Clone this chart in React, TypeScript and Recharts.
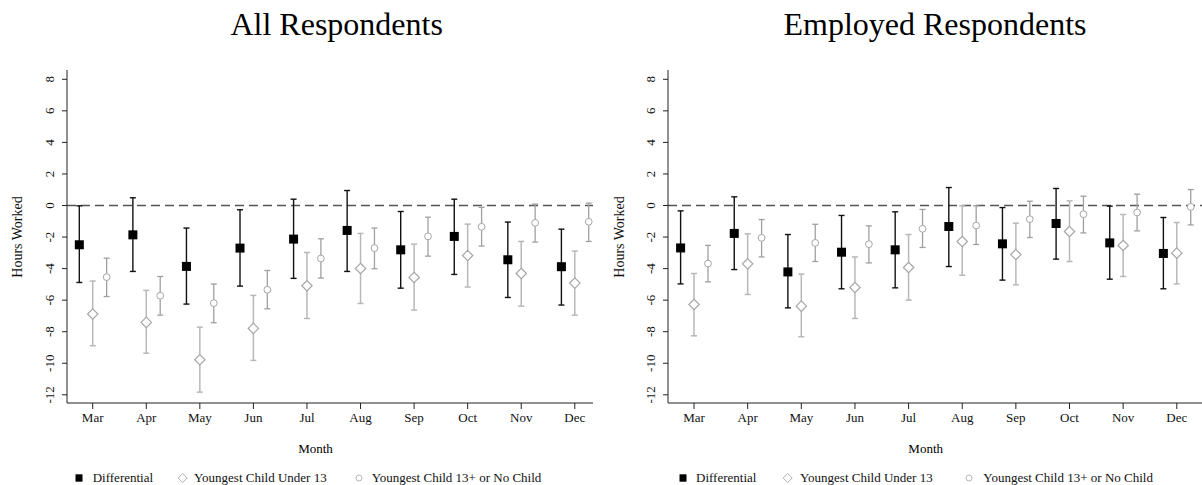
import React from 'react';
import { ScatterChart, Scatter, XAxis, YAxis, ReferenceLine, ErrorBar } from 'recharts';

const months = ['Mar', 'Apr', 'May', 'Jun', 'Jul', 'Aug', 'Sep', 'Oct', 'Nov', 'Dec'];
const yTicks = [8, 6, 4, 2, 0, -2, -4, -6, -8, -10, -12];
const monthTicks = [0, 1, 2, 3, 4, 5, 6, 7, 8, 9];

// All Respondents
const allDiff = [-2.49, -1.86, -3.86, -2.7, -2.13, -1.58, -2.81, -1.96, -3.44, -3.88];
const allDiffLo = [-4.88, -4.18, -6.25, -5.11, -4.62, -4.18, -5.24, -4.37, -5.83, -6.31];
const allDiffHi = [-0.02, 0.49, -1.43, -0.27, 0.4, 0.95, -0.38, 0.4, -1.05, -1.5];
const allU13 = [-6.88, -7.41, -9.78, -7.79, -5.09, -3.99, -4.56, -3.17, -4.31, -4.92];
const allU13Lo = [-8.89, -9.36, -11.83, -9.82, -7.16, -6.21, -6.63, -5.17, -6.38, -6.95];
const allU13Hi = [-4.79, -5.38, -7.71, -5.7, -2.98, -1.77, -2.45, -1.18, -2.28, -2.89];
const allO13 = [-4.54, -5.72, -6.19, -5.34, -3.36, -2.7, -1.96, -1.35, -1.1, -1.03];
const allO13Lo = [-5.77, -6.95, -7.43, -6.55, -4.6, -4.01, -3.21, -2.57, -2.32, -2.28];
const allO13Hi = [-3.34, -4.5, -4.98, -4.12, -2.11, -1.43, -0.74, -0.12, 0.09, 0.15];

// Employed Respondents
const empDiff = [-2.69, -1.77, -4.21, -2.96, -2.81, -1.33, -2.43, -1.14, -2.37, -3.04];
const empDiffLo = [-4.97, -4.06, -6.49, -5.28, -5.22, -3.87, -4.73, -3.4, -4.67, -5.28];
const empDiffHi = [-0.34, 0.55, -1.84, -0.63, -0.4, 1.14, -0.13, 1.08, -0.04, -0.76];
const empU13 = [-6.27, -3.7, -6.38, -5.2, -3.93, -2.28, -3.11, -1.65, -2.53, -3.02];
const empU13Lo = [-8.26, -5.64, -8.32, -7.16, -6.0, -4.42, -5.03, -3.55, -4.5, -4.97];
const empU13Hi = [-4.31, -1.8, -4.35, -3.26, -1.84, -0.02, -1.12, 0.29, -0.57, -1.08];
const empO13 = [-3.68, -2.05, -2.37, -2.45, -1.48, -1.27, -0.87, -0.55, -0.44, -0.09];
const empO13Lo = [-4.84, -3.26, -3.55, -3.64, -2.66, -2.47, -2.03, -1.74, -1.61, -1.23];
const empO13Hi = [-2.53, -0.89, -1.19, -1.29, -0.25, -0.02, 0.27, 0.59, 0.72, 1.01];

const legendLabels = ['Differential', 'Youngest Child Under 13', 'Youngest Child 13+ or No Child'];

const FONT = '"Liberation Serif", "Times New Roman", serif';
const OFF_DIFF = -0.25;
const OFF_U13 = 0;
const OFF_O13 = 0.26;

function build(vals: number[], lo: number[], hi: number[], offset: number) {
  return vals.map((v, i) => ({ x: i + offset, y: v, err: [v - lo[i], hi[i] - v] }));
}

const Square = (p: any) => <rect x={p.cx - 4.5} y={p.cy - 4.5} width={9} height={9} fill="#000" />;
const Diamond = (p: any) => (
  <path
    d={`M${p.cx},${p.cy - 5.2} L${p.cx + 5.2},${p.cy} L${p.cx},${p.cy + 5.2} L${p.cx - 5.2},${p.cy} Z`}
    fill="#fff"
    stroke="#a6a6a6"
    strokeWidth={1.2}
  />
);
const Circle = (p: any) => <circle cx={p.cx} cy={p.cy} r={3.4} fill="#fff" stroke="#a6a6a6" strokeWidth={1} />;

const YTick = (props: any) => {
  const { x, y, payload } = props;
  const bx = x - 6;
  return (
    <text x={bx} y={y} transform={`rotate(-90 ${bx} ${y})`} textAnchor="middle" fontSize={13} fontFamily={FONT} fill="#111">
      {payload.value}
    </text>
  );
};

const XTick = (props: any) => {
  const { x, y, payload } = props;
  return (
    <text x={x} y={y + 11} textAnchor="middle" fontSize={13} fontFamily={FONT} fill="#111">
      {months[payload.value]}
    </text>
  );
};

const YLabel = (props: any) => {
  const bx = props.bx;
  const cy = 237;
  return (
    <text x={bx} y={cy} transform={`rotate(-90 ${bx} ${cy})`} textAnchor="middle" fontSize={14} fontFamily={FONT} fill="#111">
      Hours Worked
    </text>
  );
};

type PanelProps = {
  left: number;
  width: number;
  rightMargin: number;
  xDomain: [number, number];
  diff: any[];
  u13: any[];
  o13: any[];
  labelX: number;
};

function Panel({ left, width, rightMargin, xDomain, diff, u13, o13, labelX }: PanelProps) {
  return (
    <div style={{ position: 'absolute', left, top: 0 }}>
      <ScatterChart width={width} height={485} margin={{ top: 70, right: rightMargin, bottom: 52, left: 0 }}>
        <XAxis
          type="number"
          dataKey="x"
          domain={xDomain}
          ticks={monthTicks}
          allowDataOverflow
          height={30}
          tickSize={6}
          tick={<XTick />}
          stroke="#222"
          tickLine={{ stroke: '#222' }}
          interval={0}
        />
        <YAxis
          type="number"
          dataKey="y"
          domain={[-12.52, 8.59]}
          ticks={yTicks}
          allowDataOverflow
          width={67}
          tickSize={5}
          tick={<YTick />}
          stroke="#222"
          tickLine={{ stroke: '#222' }}
          interval={0}
          label={<YLabel bx={labelX} />}
        />
        <ReferenceLine y={0} stroke="#555" strokeWidth={1.5} strokeDasharray="9 5" />
        <Scatter data={u13} shape={<Diamond />} isAnimationActive={false}>
          <ErrorBar dataKey="err" direction="y" width={3} stroke="#b8b8b8" strokeWidth={1.5} />
        </Scatter>
        <Scatter data={o13} shape={<Circle />} isAnimationActive={false}>
          <ErrorBar dataKey="err" direction="y" width={3} stroke="#a0a0a0" strokeWidth={1.3} />
        </Scatter>
        <Scatter data={diff} shape={<Square />} isAnimationActive={false}>
          <ErrorBar dataKey="err" direction="y" width={3} stroke="#111" strokeWidth={1.4} />
        </Scatter>
      </ScatterChart>
    </div>
  );
}

function Legend({ sq, t1, di, t2, ci, t3 }: { sq: number; t1: number; di: number; t2: number; ci: number; t3: number }) {
  const textStyle: React.CSSProperties = {
    position: 'absolute',
    top: 470.6,
    fontSize: 13,
    lineHeight: '13px',
    fontFamily: FONT,
    color: '#111',
    whiteSpace: 'nowrap',
  };
  return (
    <>
      <svg style={{ position: 'absolute', left: 0, top: 470, overflow: 'visible' }} width={1} height={1}>
        <rect x={sq - 3.5} y={4.3} width={7} height={7.4} fill="#000" />
        <path d={`M${di},${3.5} L${di + 4.5},${8} L${di},${12.5} L${di - 4.5},${8} Z`} fill="#fff" stroke="#b0b0b0" strokeWidth={1} />
        <circle cx={ci} cy={8} r={3} fill="#fff" stroke="#b8b8b8" strokeWidth={1} />
      </svg>
      <div style={{ ...textStyle, left: t1 }}>{legendLabels[0]}</div>
      <div style={{ ...textStyle, left: t2 }}>{legendLabels[1]}</div>
      <div style={{ ...textStyle, left: t3 }}>{legendLabels[2]}</div>
    </>
  );
}

function Centered({ text, cx, top, size }: { text: string; cx: number; top: number; size: number }) {
  return (
    <div
      style={{
        position: 'absolute',
        left: cx - 300,
        width: 600,
        top,
        textAlign: 'center',
        fontSize: size,
        lineHeight: `${size}px`,
        fontFamily: FONT,
        color: '#000',
        whiteSpace: 'nowrap',
      }}
    >
      {text}
    </div>
  );
}

export default function App() {
  const aDiff = build(allDiff, allDiffLo, allDiffHi, OFF_DIFF);
  const aU13 = build(allU13, allU13Lo, allU13Hi, OFF_U13);
  const aO13 = build(allO13, allO13Lo, allO13Hi, OFF_O13);
  const eDiff = build(empDiff, empDiffLo, empDiffHi, OFF_DIFF);
  const eU13 = build(empU13, empU13Lo, empU13Hi, OFF_U13);
  const eO13 = build(empO13, empO13Lo, empO13Hi, OFF_O13);
  return (
    <div style={{ position: 'absolute', left: 0, top: 0, width: 1202, height: 485, background: '#fff', overflow: 'hidden' }}>
      <Centered text="All Respondents" cx={336.7} top={8.2} size={32} />
      <Centered text="Employed Respondents" cx={935} top={8.2} size={32} />
      <Panel left={0} width={600} rightMargin={7} xDomain={[-0.48, 9.34]} diff={aDiff} u13={aU13} o13={aO13} labelX={22} />
      <Panel left={601} width={601} rightMargin={0} xDomain={[-0.485, 9.47]} diff={eDiff} u13={eU13} o13={eO13} labelX={23} />
      <Centered text="Month" cx={315.5} top={441.8} size={13} />
      <Centered text="Month" cx={925.7} top={441.8} size={13} />
      <Legend sq={79} t1={92.7} di={182.7} t2={194} ci={359} t3={371.7} />
      <Legend sq={683} t1={696} di={787.7} t2={800} ci={969} t3={983.3} />
    </div>
  );
}
